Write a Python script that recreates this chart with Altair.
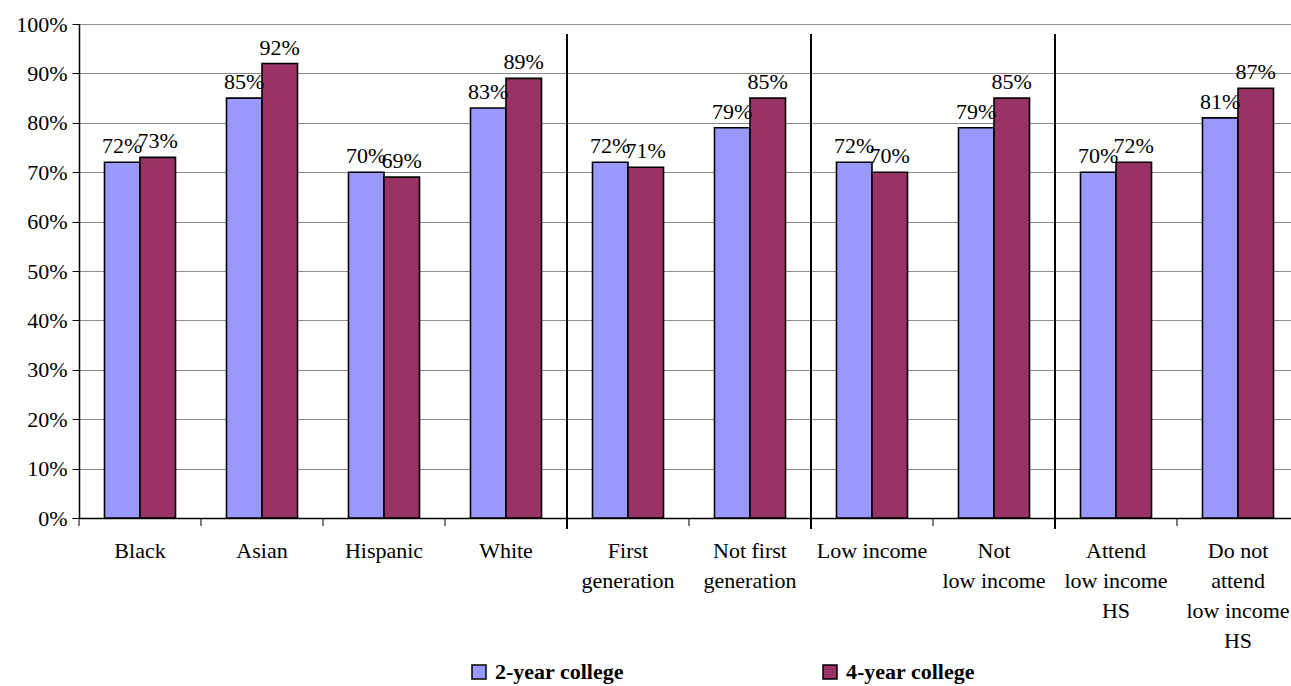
import altair as alt
import pandas as pd

# Categories (line breaks mark where the axis label wraps)
categories = [
    "Black", "Asian", "Hispanic", "White",
    "First\ngeneration", "Not first\ngeneration",
    "Low income", "Not\nlow income",
    "Attend\nlow income\nHS", "Do not\nattend\nlow income\nHS",
]
two_year = [72, 85, 70, 83, 72, 79, 72, 79, 70, 81]
four_year = [73, 92, 69, 89, 71, 85, 70, 85, 72, 87]
series = ["2-year college", "4-year college"]
colors = ["#9999FF", "#993366"]
# first category of each later group, where a divider line is drawn
group_starts = ["First\ngeneration", "Low income", "Attend\nlow income\nHS"]
y_ticks = [0, 10, 20, 30, 40, 50, 60, 70, 80, 90, 100]

rows = []
for cat, a, b in zip(categories, two_year, four_year):
    rows.append({"category": cat, "series": series[0], "value": a, "label": f"{a}%"})
    rows.append({"category": cat, "series": series[1], "value": b, "label": f"{b}%"})
df = pd.DataFrame(rows)

FONT = "'Liberation Serif', 'Times New Roman', serif"
FS = 22

x_scale = alt.Scale(domain=categories, range=[0, 1220], paddingInner=0, paddingOuter=0)
off_scale = alt.Scale(domain=series, paddingInner=0, paddingOuter=0.718)
y_scale = alt.Scale(domain=[0, 100], nice=False)

x_axis = alt.Axis(
    labelAngle=0, ticks=False, grid=False, domainColor="black", domainWidth=1.5,
    labelExpr="split(datum.label, '\\n')", labelFont=FONT, labelFontSize=FS,
    labelColor="black", labelLineHeight=30, labelPadding=22, labelLimit=0,
)
x_enc = alt.X("category:N", sort=categories, scale=x_scale, title=None, axis=x_axis)
x_edge = alt.X("category:N", sort=categories, scale=x_scale, title=None, axis=x_axis,
               bandPosition=0)
off_enc = alt.XOffset("series:N", sort=series, scale=off_scale)
y_enc = alt.Y(
    "value:Q", scale=y_scale, title=None,
    axis=alt.Axis(
        values=y_ticks, labelExpr="datum.value + '%'", grid=True, gridColor="#8c8c8c",
        gridWidth=1, domainColor="black", domainWidth=1.5, tickColor="black",
        tickSize=7, labelFont=FONT, labelFontSize=FS, labelColor="black", labelPadding=5,
    ),
)

bars = alt.Chart(df).mark_bar(stroke="black", strokeWidth=1.6).encode(
    x=x_enc,
    xOffset=off_enc,
    y=y_enc,
    color=alt.Color(
        "series:N", sort=series, scale=alt.Scale(domain=series, range=colors),
        legend=alt.Legend(
            title=None, orient="none", legendX=389, legendY=637, direction="horizontal",
            symbolType="square", symbolSize=196, symbolStrokeColor="black",
            symbolStrokeWidth=1.5, labelFont=FONT, labelFontWeight="bold",
            labelFontSize=FS, labelColor="black", labelOffset=5, columnPadding=195,
        ),
    ),
)

texts = alt.Chart(df).mark_text(
    dy=-9, baseline="alphabetic", font=FONT, fontSize=FS, color="black"
).encode(x=x_enc, xOffset=off_enc, y=alt.Y("value:Q", scale=y_scale), text="label:N")

cat_df = pd.DataFrame({"category": categories})
ticks = alt.Chart(cat_df).mark_rule(color="black", strokeWidth=1).encode(
    x=x_edge, y=alt.value(494), y2=alt.value(502),
)

sep_df = pd.DataFrame({"category": group_starts})
separators = alt.Chart(sep_df).mark_rule(color="black", strokeWidth=2).encode(
    x=x_edge, y=alt.value(10), y2=alt.value(505),
)

chart = (
    alt.layer(bars, texts, ticks, separators)
    .properties(
        width=1212, height=494,
        autosize=alt.AutoSizeParams(type="none"),
        padding={"left": 79, "top": 24, "right": 0, "bottom": 168},
        background="white",
    )
    .configure_view(strokeWidth=0)
)

chart.save("out.html", embed_options={"renderer": "svg", "actions": False})
